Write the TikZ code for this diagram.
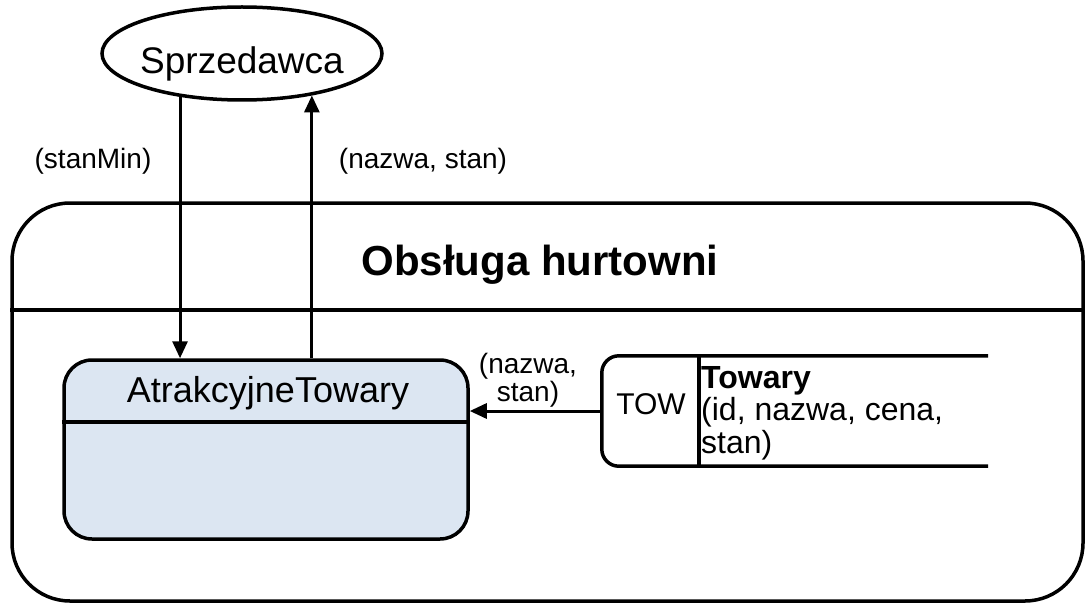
\documentclass[tikz,border=0pt]{standalone}
\usepackage{fontspec}
\setmainfont{Liberation Sans}
\usetikzlibrary{arrows.meta,shapes.geometric}
\definecolor{procfill}{HTML}{DCE6F2}
\newcommand{\fsz}[1]{\fontsize{#1}{1.2\dimexpr#1pt\relax}\selectfont}
\tikzset{
  thick line/.style={line width=3.5pt},
  flow/.style={line width=3pt,-{Triangle[length=17pt,width=15pt]}},
  lbl/.style={inner sep=0pt,font=\fsz{28}},
}
\begin{document}
\begin{tikzpicture}[x=1pt,y=-1pt]
\useasboundingbox (0,0) rectangle (1086,604);

% external entity
\node[ellipse,draw,thick line,minimum width=280pt,minimum height=93pt,inner ysep=0pt,inner xsep=-5pt,
      text height=40pt,text depth=0pt,font=\fsz{37}]
  (seller) at (242,53.5) {Sprzedawca};

% process container
\node[draw,thick line,rounded corners=58pt,minimum width=1071pt,minimum height=398pt,inner sep=0pt]
  (proc) at (547.5,402) {};
\draw[thick line] (proc.west |- 0,310) -- (proc.east |- 0,310);
\node[inner sep=0pt,font=\bfseries\fsz{42}] (title) at (540,265) {Obsługa hurtowni};

% inner element
\node[draw,thick line,fill=procfill,rounded corners=28pt,minimum width=404pt,minimum height=179pt,inner sep=0pt]
  (attr) at (266,449.5) {};
\draw[thick line] (attr.west |- 0,422) -- (attr.east |- 0,422);
\node[inner sep=0pt,font=\fsz{36}] (attrname) at (268,393) {AtrakcyjneTowary};

% data store
\node[minimum width=386pt,minimum height=110pt,inner sep=0pt] (store) at (795,411) {};
\draw[thick line,rounded corners=17pt] (store.north east) -- (store.north west) -- (store.south west) -- (store.south east);
\coordinate (sdiv) at (699,356);
\draw[thick line] (sdiv) -- (sdiv |- store.south);
\node[inner sep=0pt,font=\fsz{30}] (tow) at (651,404) {TOW};
\node[inner sep=0pt,anchor=north west,align=left,font=\fsz{32}] (towary) at (701,366)
  {\textbf{Towary}\\[-6pt](id, nazwa, cena,\\[-6pt]stan)};

% flows
\draw[flow] (seller.-145) -- (seller.-145 |- attr.north);
\draw[flow] (attr.north -| seller.-31.85) -- (seller.-31.85);
\draw[flow] (store.west) -- (attr.east |- store.west);

% flow labels
\node[lbl] (l1) at (93,161) {(stanMin)};
\node[lbl] (l2) at (423,161) {(nazwa, stan)};
\node[lbl,align=center] (l3) at (528,380) {(nazwa,\\[-6pt]stan)};
\end{tikzpicture}
\end{document}
